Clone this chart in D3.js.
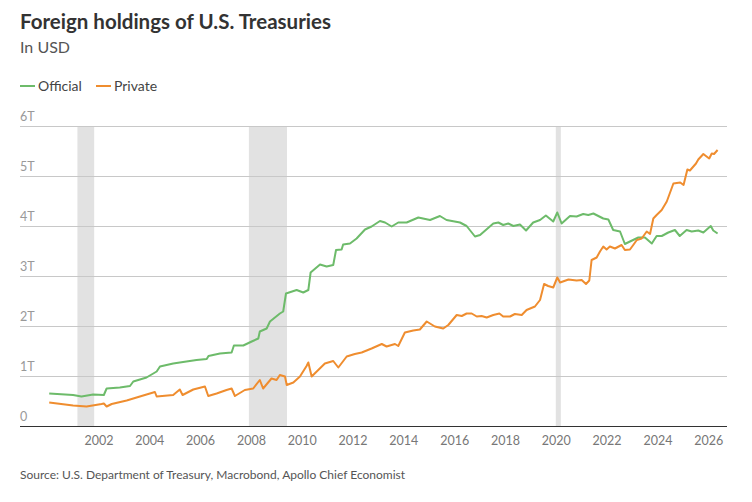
<!DOCTYPE html>
<html><head><meta charset="utf-8">
<script src="https://cdn.jsdelivr.net/npm/d3@7"></script>
<style>
html,body{margin:0;padding:0;background:#fff;}
svg{display:block;font-family:Lato,"Open Sans",sans-serif;}
</style></head>
<body>
<svg id="chart" width="752" height="502"></svg>
<script>
// ---- data (decimal years, trillions USD) ----
const officialYears = [2000.06,2001.00,2001.33,2001.79,2002.21,2002.32,2002.84,2003.24,2003.37,2003.89,2004.29,2004.42,2004.94,2005.33,2005.86,2006.26,2006.33,2006.78,2007.24,2007.33,2007.70,2008.03,2008.29,2008.35,2008.62,2008.75,2009.14,2009.27,2009.38,2009.80,2010.06,2010.26,2010.35,2010.72,2010.98,2011.24,2011.35,2011.57,2011.63,2011.90,2012.16,2012.49,2012.75,2013.08,2013.28,2013.54,2013.80,2014.13,2014.59,2015.05,2015.44,2015.70,2016.23,2016.49,2016.82,2017.02,2017.54,2017.74,2017.93,2018.13,2018.33,2018.59,2018.83,2019.11,2019.38,2019.61,2019.90,2020.06,2020.23,2020.56,2020.82,2021.08,2021.28,2021.48,2021.87,2022.07,2022.26,2022.53,2022.72,2022.92,2023.25,2023.51,2023.78,2023.97,2024.17,2024.43,2024.69,2024.88,2025.15,2025.35,2025.61,2025.81,2026.10,2026.20,2026.37];
const officialValues = [0.65,0.62,0.59,0.63,0.62,0.75,0.77,0.80,0.89,0.97,1.09,1.19,1.25,1.28,1.32,1.34,1.40,1.45,1.47,1.61,1.61,1.69,1.75,1.89,1.95,2.09,2.25,2.29,2.65,2.72,2.67,2.72,3.07,3.23,3.19,3.22,3.52,3.53,3.63,3.65,3.75,3.93,3.99,4.10,4.07,3.99,4.07,4.07,4.17,4.12,4.20,4.12,4.07,4.00,3.79,3.82,4.05,4.07,4.02,4.05,4.00,4.03,3.91,4.07,4.12,4.21,4.09,4.27,4.05,4.20,4.19,4.24,4.22,4.25,4.15,4.13,3.92,3.89,3.64,3.69,3.77,3.77,3.65,3.80,3.80,3.87,3.92,3.80,3.92,3.89,3.91,3.87,4.00,3.91,3.85];

const privateYears = [2000.06,2001.00,2001.53,2002.12,2002.21,2002.32,2002.52,2003.11,2003.63,2004.22,2004.29,2004.94,2005.20,2005.31,2005.73,2006.19,2006.32,2006.65,2007.04,2007.24,2007.37,2007.76,2008.09,2008.35,2008.48,2008.81,2009.01,2009.14,2009.34,2009.41,2009.67,2009.93,2010.19,2010.26,2010.39,2010.65,2010.91,2011.24,2011.44,2011.77,2012.09,2012.36,2012.75,2013.15,2013.34,2013.67,2013.80,2014.06,2014.39,2014.65,2014.92,2015.24,2015.57,2015.77,2016.10,2016.30,2016.49,2016.69,2016.89,2017.08,2017.28,2017.54,2017.78,2017.93,2018.20,2018.39,2018.66,2018.85,2019.18,2019.38,2019.54,2019.70,2019.90,2020.06,2020.17,2020.50,2020.82,2021.02,2021.19,2021.32,2021.41,2021.61,2021.74,2021.87,2022.00,2022.13,2022.33,2022.59,2022.72,2022.92,2023.05,2023.19,2023.38,2023.58,2023.71,2023.84,2023.97,2024.17,2024.37,2024.63,2024.90,2025.03,2025.18,2025.28,2025.52,2025.61,2025.81,2025.91,2026.04,2026.14,2026.23,2026.37];
const privateValues = [0.47,0.41,0.39,0.44,0.45,0.39,0.44,0.51,0.59,0.68,0.59,0.62,0.73,0.62,0.73,0.79,0.60,0.65,0.72,0.75,0.60,0.72,0.75,0.92,0.75,0.95,0.92,1.02,0.99,0.82,0.87,0.99,1.20,1.27,0.99,1.12,1.25,1.30,1.17,1.39,1.44,1.47,1.55,1.64,1.59,1.64,1.60,1.87,1.91,1.93,2.09,1.99,1.95,2.02,2.22,2.20,2.25,2.25,2.19,2.20,2.17,2.22,2.25,2.19,2.19,2.24,2.22,2.32,2.39,2.52,2.84,2.80,2.77,2.97,2.87,2.93,2.91,2.92,2.84,2.91,3.32,3.37,3.49,3.59,3.53,3.59,3.55,3.62,3.52,3.53,3.62,3.72,3.75,3.89,3.84,4.15,4.22,4.32,4.49,4.85,4.87,4.82,5.13,5.11,5.25,5.33,5.44,5.40,5.35,5.45,5.44,5.52];

const recessionStarts = [2001.17, 2007.92, 2020.0];
const recessionEnds   = [2001.83, 2009.42, 2020.2];

const yTickValues = [0,1,2,3,4,5,6];
const yTickLabels = ["0","1T","2T","3T","4T","5T","6T"];
const xTickValues = [2002,2004,2006,2008,2010,2012,2014,2016,2018,2020,2022,2024,2026];

const seriesNames = ["Official","Private"];
const seriesColors = ["#6dbb6a","#ef8d2f"];

// ---- layout ----
const svg = d3.select("#chart");
const plotLeft = 20, plotRight = 727, plotTop = 126, plotBottom = 426;
const x = d3.scaleLinear().domain([1998.91, 2026.74]).range([plotLeft, plotRight]);
const y = d3.scaleLinear().domain([0, 6]).range([plotBottom, plotTop]);

// title
svg.append("text").attr("x",20).attr("y",29).attr("fill","#333")
  .style("font-size","20.5px").style("font-weight","700").text("Foreign holdings of U.S. Treasuries");
svg.append("text").attr("x",20).attr("y",53).attr("fill","#555")
  .style("font-size","16px").text("In USD");

// legend
const legX = [20, 96];
seriesNames.forEach((n,i)=>{
  const g = svg.append("g").attr("transform",`translate(${legX[i]},86)`);
  g.append("line").attr("x1",0).attr("x2",15).attr("y1",0).attr("y2",0)
    .attr("stroke",seriesColors[i]).attr("stroke-width",2);
  g.append("text").attr("x",18).attr("y",5).attr("fill","#444")
    .style("font-size","14px").text(n);
});

// recession bands
svg.append("g").selectAll("rect").data(recessionStarts).join("rect")
  .attr("x",(d)=>x(d)).attr("width",(d,i)=>x(recessionEnds[i])-x(d))
  .attr("y",plotTop).attr("height",plotBottom-plotTop).attr("fill","#e2e2e2");

// grid
const yAxis = d3.axisLeft(y).tickValues(yTickValues.slice(1)).tickSize(-(plotRight-plotLeft)).tickFormat("");
svg.append("g").attr("transform",`translate(${plotLeft},0)`).call(yAxis)
  .call(g=>g.select(".domain").remove())
  .call(g=>g.selectAll(".tick line").attr("stroke","#c8c8c8").attr("stroke-width",1));

// y labels
svg.append("g").selectAll("text").data(yTickValues).join("text")
  .attr("x",plotLeft).attr("y",(d)=>y(d)-5).attr("fill","#999")
  .style("font-size","12.5px").text((d,i)=>yTickLabels[i]);

// lines
const line = d3.line().x(d=>x(d[0])).y(d=>y(d[1]));
const officialData = officialYears.map((t,i)=>[t, officialValues[i]]);
const privateData = privateYears.map((t,i)=>[t, privateValues[i]]);
[officialData, privateData].forEach((data,i)=>{
  svg.append("path").datum(data).attr("d",line).attr("fill","none")
    .attr("stroke",seriesColors[i]).attr("stroke-width",2).attr("stroke-linejoin","round");
});

// x axis
const xAxis = d3.axisBottom(x).tickValues(xTickValues).tickSize(0).tickPadding(10).tickFormat(d3.format("d"));
svg.append("g").attr("transform",`translate(0,${plotBottom})`).call(xAxis)
  .call(g=>g.select(".domain").remove())
  .call(g=>g.selectAll(".tick text").attr("fill","#777").style("font-size","12.5px").style("font-family","Lato,sans-serif"));
svg.append("line").attr("x1",plotLeft).attr("x2",plotRight).attr("y1",plotBottom+0.5).attr("y2",plotBottom+0.5)
  .attr("stroke","#333").attr("stroke-width",1.2);

// source
svg.append("text").attr("x",20).attr("y",479).attr("fill","#555")
  .style("font-size","12px").text("Source: U.S. Department of Treasury, Macrobond, Apollo Chief Economist");
</script>
</body></html>
